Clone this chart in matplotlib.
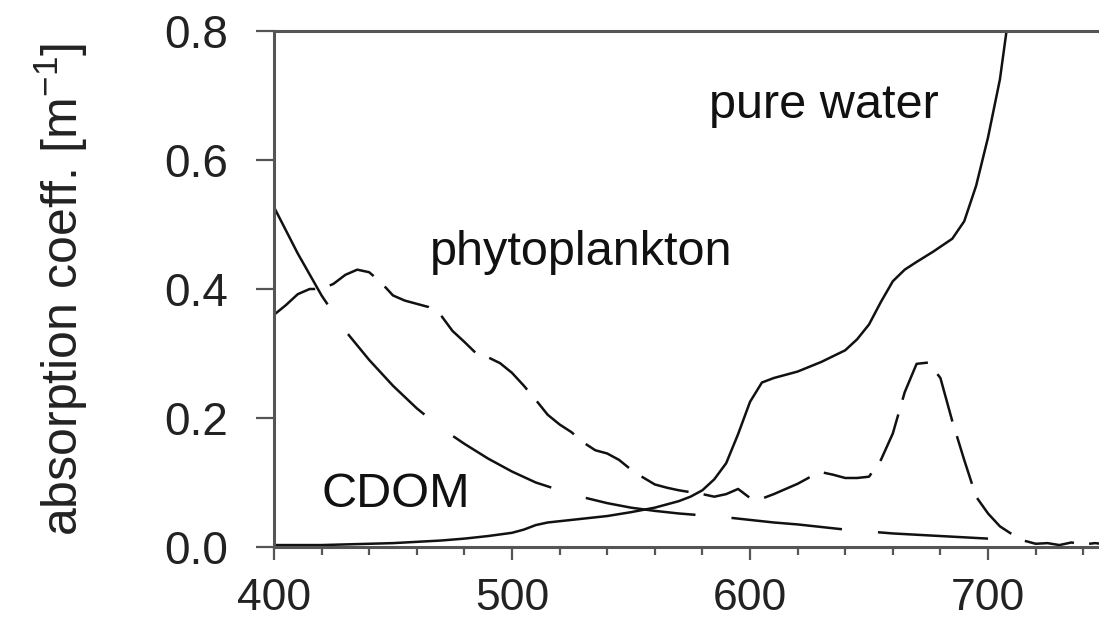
import matplotlib
matplotlib.use("Agg")
import matplotlib.pyplot as plt
from matplotlib.ticker import MultipleLocator

plt.rcParams["font.family"] = ["Liberation Sans", "DejaVu Sans"]
plt.rcParams["mathtext.fontset"] = "custom"
plt.rcParams["mathtext.rm"] = "Liberation Sans"
plt.rcParams["mathtext.it"] = "Liberation Sans:italic"
plt.rcParams["lines.scale_dashes"] = False

# pure water (solid)
water_nm = [400, 410, 420, 430, 440, 450, 460, 470, 480, 490, 500, 505, 510, 515,
            520, 530, 540, 550, 560, 570, 575, 580, 585, 590, 595, 600, 605, 610,
            620, 630, 640, 645, 650, 655, 660, 665, 670, 677, 685, 690, 695, 700,
            705, 710, 715]
water_abs = [0.003, 0.003, 0.003, 0.004, 0.005, 0.006, 0.008, 0.010, 0.013, 0.017,
             0.022, 0.027, 0.034, 0.038, 0.040, 0.044, 0.048, 0.054, 0.061, 0.071,
             0.078, 0.088, 0.105, 0.130, 0.175, 0.225, 0.255, 0.262, 0.272, 0.287,
             0.305, 0.322, 0.345, 0.380, 0.412, 0.430, 0.442, 0.458, 0.478, 0.505,
             0.560, 0.635, 0.725, 0.860, 1.000]

# phytoplankton (short dashes)
phyto_nm = list(range(400, 755, 5))
phyto_abs = [0.360, 0.375, 0.392, 0.400, 0.400, 0.408, 0.422, 0.430, 0.426, 0.410,
             0.390, 0.382, 0.377, 0.372, 0.360, 0.335, 0.318, 0.300, 0.294, 0.285,
             0.270, 0.250, 0.228, 0.205, 0.190, 0.178, 0.162, 0.150, 0.145, 0.135,
             0.120, 0.108, 0.097, 0.092, 0.088, 0.085, 0.082, 0.078, 0.082, 0.090,
             0.076, 0.075, 0.082, 0.090, 0.098, 0.108, 0.116, 0.112, 0.107, 0.107,
             0.109, 0.135, 0.176, 0.240, 0.284, 0.286, 0.262, 0.195, 0.135, 0.078,
             0.052, 0.032, 0.020, 0.010, 0.005, 0.006, 0.003, 0.007, 0.004, 0.006,
             0.004]

# CDOM (long dashes)
cdom_nm = list(range(400, 710, 10))
cdom_abs = [0.527, 0.455, 0.390, 0.335, 0.290, 0.250, 0.215, 0.185, 0.160, 0.137,
            0.117, 0.100, 0.088, 0.077, 0.068, 0.061, 0.056, 0.052, 0.049, 0.046,
            0.042, 0.038, 0.035, 0.031, 0.027, 0.024, 0.021, 0.019, 0.017, 0.015,
            0.013]

labels = ["pure water", "phytoplankton", "CDOM"]
label_pos = [(631, 0.665), (529, 0.437), (451, 0.062)]

fig = plt.figure(figsize=(10.99, 6.24), dpi=100)
ax = fig.add_axes([0.2493, 0.1234, 0.7580, 0.8269])

ax.plot(water_nm, water_abs, color="#111111", lw=1.8)
ax.plot(phyto_nm, phyto_abs, color="#111111", lw=1.8, dashes=(36, 11))
ax.plot(cdom_nm, cdom_abs, color="#111111", lw=1.8, dashes=(80, 26))

for txt, (x, y) in zip(labels, label_pos):
    ax.text(x, y, txt, ha="center", va="baseline", fontsize=35, color="#111111")

ax.set_xlim(400, 750)
ax.set_ylim(0, 0.8)
ax.xaxis.set_major_locator(MultipleLocator(100))
ax.xaxis.set_minor_locator(MultipleLocator(20))
ax.yaxis.set_major_locator(MultipleLocator(0.2))
ax.yaxis.set_major_formatter(plt.FormatStrFormatter("%.1f"))

for s in ["left", "bottom", "top"]:
    ax.spines[s].set_color("#555555")
    ax.spines[s].set_linewidth(2.2)
ax.spines["right"].set_visible(False)

ax.tick_params(axis="x", which="major", length=9.5, width=1.6, color="#555555",
               labelsize=32, pad=13, labelcolor="#222222")
ax.tick_params(axis="x", which="minor", length=5.5, width=1.6, color="#555555")
ax.tick_params(axis="y", which="major", length=13, width=1.6, color="#555555",
               labelsize=33, pad=20, labelcolor="#222222")

ax.set_ylabel("absorption coeff. [m$^{-1}$]", fontsize=36, color="#222222")
ax.yaxis.set_label_coords(-0.221, 0.5)

fig.savefig("out.png", dpi=100)
